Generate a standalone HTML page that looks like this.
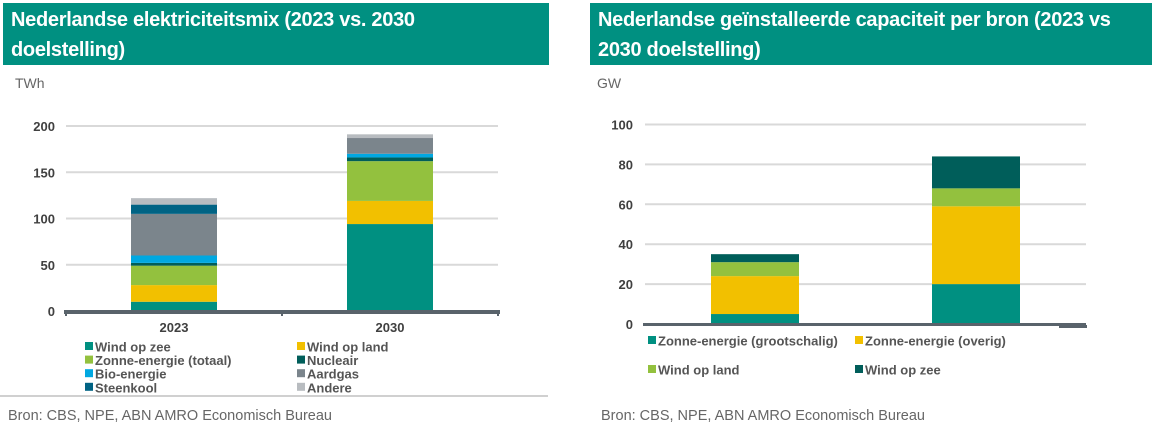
<!DOCTYPE html>
<html><head><meta charset="utf-8"><style>
body{margin:0;width:1158px;height:433px;background:#fff;font-family:"Liberation Sans",Arial,sans-serif;overflow:hidden;position:relative}
.hdr{position:absolute;top:3px;height:62px;background:#009081;color:#fff;font-weight:bold;font-size:20px;line-height:30px;padding:2px 4px 0 8px;box-sizing:border-box;letter-spacing:-0.3px;white-space:nowrap}
.unit{position:absolute;top:75px;font-size:14px;color:#666}
.foot{position:absolute;top:408px;font-size:14.5px;color:#666}
svg{position:absolute;left:0;top:0}
</style></head><body>
<div class="hdr" style="left:3px;width:546px">Nederlandse elektriciteitsmix (2023 vs. 2030<br>doelstelling)</div>
<div class="hdr" style="left:590px;width:562px">Nederlandse geïnstalleerde capaciteit per bron (2023 vs<br>2030 doelstelling)</div>
<div class="unit" style="left:15px">TWh</div>
<div class="unit" style="left:597px">GW</div>
<div class="foot" style="left:8px">Bron: CBS, NPE, ABN AMRO Economisch Bureau</div>
<div class="foot" style="left:601px">Bron: CBS, NPE, ABN AMRO Economisch Bureau</div>
<svg id="chart" width="1158" height="433"></svg>
<script>
const leftCategories=["2023","2030"];
const leftSeriesNames=["Wind op zee","Wind op land","Zonne-energie (totaal)","Nucleair","Bio-energie","Aardgas","Steenkool","Andere"];
const leftWindZee=[10,94];
const leftWindLand=[18,25];
const leftZonne=[21,43];
const leftNucleair=[3,4];
const leftBio=[8,4];
const leftAardgas=[45,17];
const leftSteenkool=[10,0];
const leftAndere=[7,4];
const leftTicks=[0,50,100,150,200];
const rightCategories=["2023","2030"];
const rightSeriesNames=["Zonne-energie (grootschalig)","Zonne-energie (overig)","Wind op land","Wind op zee"];
const rightZonneGroot=[5,20];
const rightZonneOverig=[19,39];
const rightWindLand=[7,9];
const rightWindZee=[4,16];
const rightTicks=[0,20,40,60,80,100];

const NS="http://www.w3.org/2000/svg";
const svg=document.getElementById('chart');
function mk(t,a,txt){const e=document.createElementNS(NS,t);for(const k in a)e.setAttribute(k,a[k]);if(txt!==undefined)e.textContent=txt;svg.appendChild(e);return e;}

const leftColors=["#009081","#f2c000","#93c13e","#005e5a","#00a8e1","#7b858c","#006384","#b8bcc0"];
const rightColors=["#009081","#f2c000","#93c13e","#005e5a"];

// LEFT chart
const lY=v=>311-v*(185/200);
const lX0=66,lX1=498,lBarW=86;
const lCenters=i=>174+i*216;
leftTicks.forEach(t=>{
  if(t>0){const g=mk('line',{x1:lX0,x2:lX1,y1:lY(t),y2:lY(t),stroke:'#d9d9d9','stroke-width':2});
  
  }
  const l=mk('text',{x:55,y:lY(t)+5,'text-anchor':'end','font-size':13,'font-weight':'bold',fill:'#404040'},t);
  
  
});
const leftSeries=[leftWindZee,leftWindLand,leftZonne,leftNucleair,leftBio,leftAardgas,leftSteenkool,leftAndere];
leftCategories.forEach((c,i)=>{
  let acc=0;
  leftSeries.forEach((s,j)=>{
    const v=s[i];if(v<=0)return;
    const r=mk('rect',{x:lCenters(i)-lBarW/2,y:lY(acc+v),width:lBarW,height:lY(acc)-lY(acc+v),fill:leftColors[j]});
    
    
    acc+=v;
  });
  const t=mk('text',{x:lCenters(i),y:332,'text-anchor':'middle','font-size':13,'font-weight':'bold',fill:'#404040'},c);
  
  
});
const la=mk('line',{x1:lX0-2,x2:lX1+2,y1:312,y2:312,stroke:'#59636b','stroke-width':4});


[lX0,282,lX1].forEach(x=>{const tk=mk('line',{x1:x,x2:x,y1:312,y2:316,stroke:'#59636b','stroke-width':2});

});
leftSeriesNames.forEach((n,j)=>{
  const col=j%2,row=Math.floor(j/2);
  const x=col?297:85,y=347+row*13.6;
  const sq=mk('rect',{x:x,y:y-5,width:8,height:8,fill:leftColors[j]});
  
  
  const t=mk('text',{x:x+10,y:y+4.5,'font-size':13,'font-weight':'bold',fill:'#555'},n);
  
  
});
const sep1=mk('line',{x1:0,x2:548,y1:396,y2:396,stroke:'#d0d0d0','stroke-width':2});



// RIGHT chart
const rY=v=>324-v*(199.5/100);
const rX0=645,rX1=1086,rBarW=88;
const rCenters=i=>755+i*221;
rightTicks.forEach(t=>{
  if(t>0){const g=mk('line',{x1:rX0,x2:rX1,y1:rY(t),y2:rY(t),stroke:'#d9d9d9','stroke-width':2});
  
  }
  const l=mk('text',{x:633,y:rY(t)+5,'text-anchor':'end','font-size':13,'font-weight':'bold',fill:'#404040'},t);
  
  
});
const rightSeries=[rightZonneGroot,rightZonneOverig,rightWindLand,rightWindZee];
rightCategories.forEach((c,i)=>{
  let acc=0;
  rightSeries.forEach((s,j)=>{
    const v=s[i];if(v<=0)return;
    const r=mk('rect',{x:rCenters(i)-rBarW/2,y:rY(acc+v),width:rBarW,height:rY(acc)-rY(acc+v),fill:rightColors[j]});
    
    
    acc+=v;
  });
});
const ra=mk('line',{x1:rX0-2,x2:rX1,y1:324.5,y2:324.5,stroke:'#59636b','stroke-width':3});


const ra2=mk('line',{x1:1059,x2:1087,y1:326.5,y2:326.5,stroke:'#59636b','stroke-width':3});


rightSeriesNames.forEach((n,j)=>{
  const col=j%2,row=Math.floor(j/2);
  const x=col?855:648,y=341+row*29;
  const sq=mk('rect',{x:x,y:y-5,width:8,height:8,fill:rightColors[j]});
  
  
  const t=mk('text',{x:x+10,y:y+4.5,'font-size':13,'font-weight':'bold',fill:'#555'},n);
  
  
});
</script>
</body></html>
